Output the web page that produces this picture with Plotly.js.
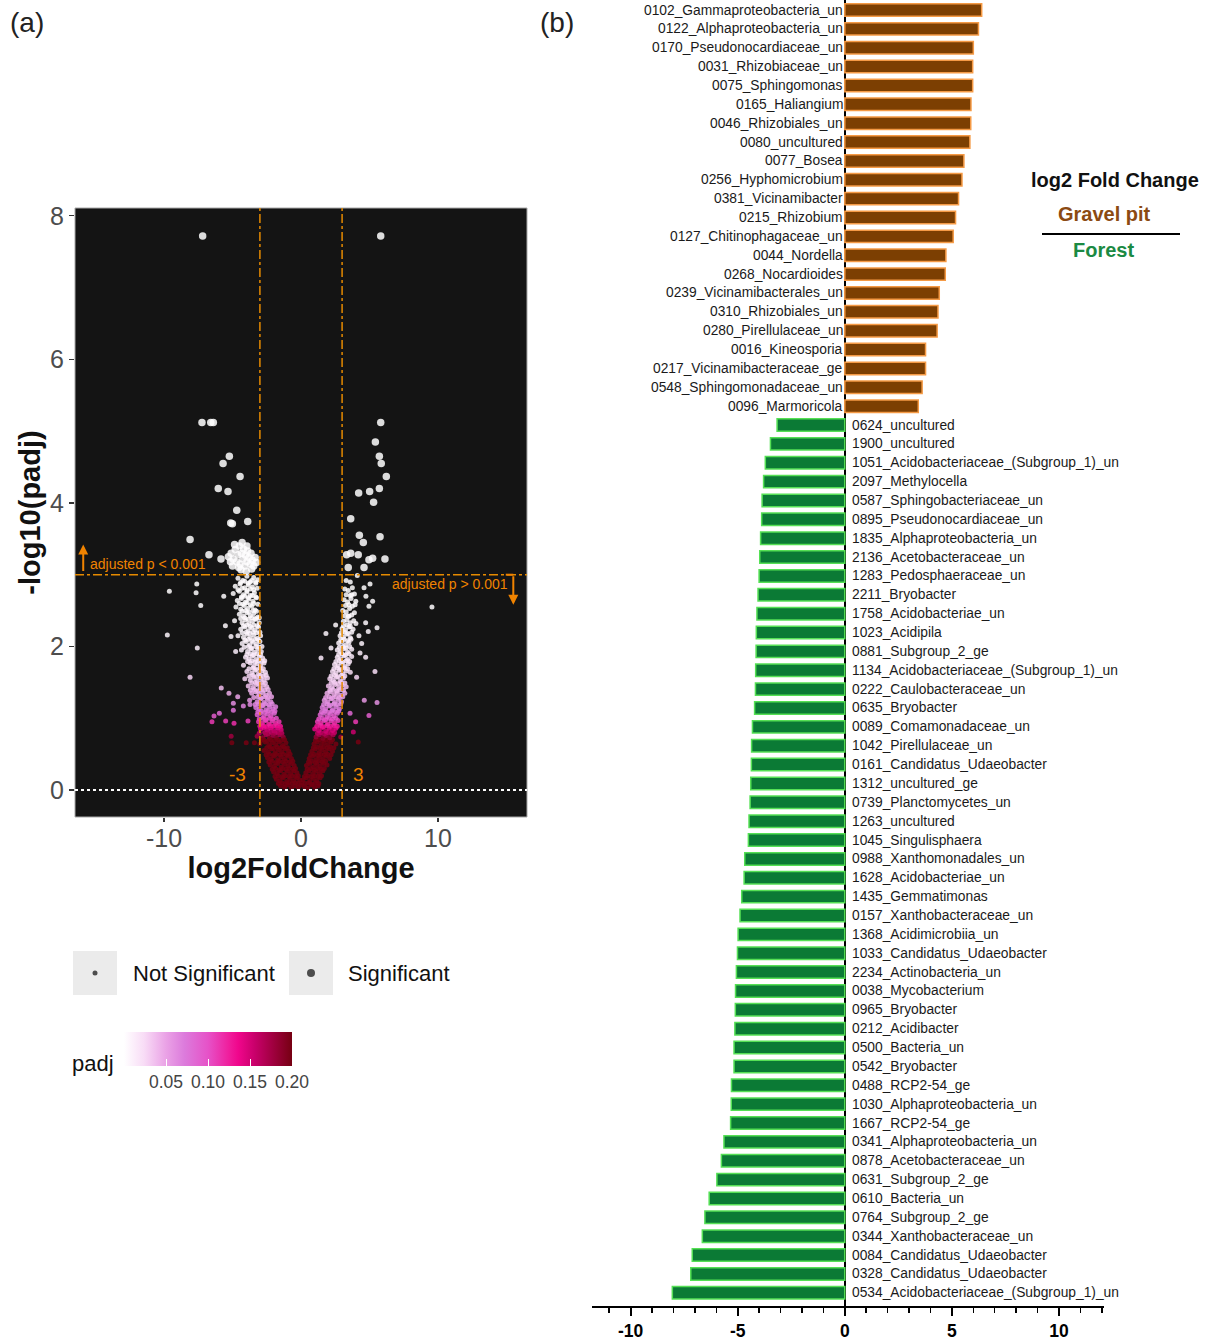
<!DOCTYPE html>
<html><head><meta charset="utf-8">
<script src="https://cdn.plot.ly/plotly-3.0.1.min.js"></script>
<style>html,body{margin:0;padding:0;background:#fff}#chart{width:1214px;height:1340px}</style>
</head><body><div id="chart"></div>
<script>
// ---------------- Panel (b): log2 fold change bars ----------------
const gravelLabels = ["0102_Gammaproteobacteria_un","0122_Alphaproteobacteria_un","0170_Pseudonocardiaceae_un","0031_Rhizobiaceae_un","0075_Sphingomonas","0165_Haliangium","0046_Rhizobiales_un","0080_uncultured","0077_Bosea","0256_Hyphomicrobium","0381_Vicinamibacter","0215_Rhizobium","0127_Chitinophagaceae_un","0044_Nordella","0268_Nocardioides","0239_Vicinamibacterales_un","0310_Rhizobiales_un","0280_Pirellulaceae_un","0016_Kineosporia","0217_Vicinamibacteraceae_ge","0548_Sphingomonadaceae_un","0096_Marmoricola"];
const gravelValues = [6.39,6.24,6.00,5.97,5.97,5.89,5.88,5.84,5.56,5.47,5.31,5.17,5.06,4.72,4.69,4.41,4.35,4.31,3.77,3.77,3.61,3.43];
const forestLabels = ["0624_uncultured","1900_uncultured","1051_Acidobacteriaceae_(Subgroup_1)_un","2097_Methylocella","0587_Sphingobacteriaceae_un","0895_Pseudonocardiaceae_un","1835_Alphaproteobacteria_un","2136_Acetobacteraceae_un","1283_Pedosphaeraceae_un","2211_Bryobacter","1758_Acidobacteriae_un","1023_Acidipila","0881_Subgroup_2_ge","1134_Acidobacteriaceae_(Subgroup_1)_un","0222_Caulobacteraceae_un","0635_Bryobacter","0089_Comamonadaceae_un","1042_Pirellulaceae_un","0161_Candidatus_Udaeobacter","1312_uncultured_ge","0739_Planctomycetes_un","1263_uncultured","1045_Singulisphaera","0988_Xanthomonadales_un","1628_Acidobacteriae_un","1435_Gemmatimonas","0157_Xanthobacteraceae_un","1368_Acidimicrobiia_un","1033_Candidatus_Udaeobacter","2234_Actinobacteria_un","0038_Mycobacterium","0965_Bryobacter","0212_Acidibacter","0500_Bacteria_un","0542_Bryobacter","0488_RCP2-54_ge","1030_Alphaproteobacteria_un","1667_RCP2-54_ge","0341_Alphaproteobacteria_un","0878_Acetobacteraceae_un","0631_Subgroup_2_ge","0610_Bacteria_un","0764_Subgroup_2_ge","0344_Xanthobacteraceae_un","0084_Candidatus_Udaeobacter","0328_Candidatus_Udaeobacter","0534_Acidobacteriaceae_(Subgroup_1)_un"];
const forestValues = [-3.16,-3.47,-3.71,-3.79,-3.86,-3.88,-3.93,-3.97,-4.00,-4.05,-4.10,-4.13,-4.14,-4.16,-4.17,
  -4.21,-4.31,-4.35,-4.36,-4.39,-4.42,-4.47,-4.50,-4.67,-4.70,-4.81,-4.89,-4.98,-5.01,-5.06,-5.10,
  -5.11,-5.13,-5.17,-5.17,-5.29,-5.30,-5.33,-5.64,-5.76,-5.97,-6.33,-6.53,-6.65,-7.12,-7.19,-8.05];
const barTickVals = [-10,-5,0,5,10];
const barTickText = ["-10","-5","0","5","10"];

// ---------------- Panel (a): volcano plot ----------------
const log2FC = [
  -7.18,-7.23,-6.59,-6.40,-5.23,-5.69,-4.45,-6.04,-5.33,-4.69,
  -5.13,-5.01,-3.89,-8.10,-6.72,-5.84,-4.38,
  -5.30,-5.10,-4.95,-4.80,-4.70,-4.60,-4.50,-4.45,-4.35,-4.25,-4.20,-4.10,-4.05,-3.95,-3.90,-3.80,-3.70,-3.65,-3.55,-3.45,-3.35,-3.25,-5.00,-4.85,-4.55,-4.30,-3.95,-5.15,-3.60,-4.00,
  -7.61,-9.61,-7.66,-7.32,-9.76,-7.57,-8.10,-5.64,-5.52,-5.11,-4.77,-5.82,
  -5.26,-4.62,-4.21,-4.94,-3.72,-6.35,-5.96,-6.50,-5.50,-4.89,-3.87,-4.94,
  -5.10,-5.05,-4.00,-3.40,
  -4.60,-4.25,-3.95,-3.70,-3.45,-3.15,
  -4.40,-4.10,-3.85,-3.60,-3.30,
  -4.80,-4.45,-4.10,-3.85,-3.55,-3.30,
  -4.60,-4.30,-3.95,-3.70,-3.45,-3.20,
  -4.95,-4.50,-4.20,-3.95,-3.70,-3.40,
  -4.35,-4.10,-3.85,-3.55,-3.30,
  -4.65,-4.35,-4.05,-3.80,-3.50,-3.25,
  -4.50,-4.25,-3.95,-3.70,-3.45,-3.15,
  -4.75,-4.40,-4.15,-3.90,-3.60,-3.35,
  -4.30,-4.05,-3.80,-3.50,-3.25,
  -4.50,-4.20,-3.95,-3.70,-3.45,-3.15,
  -4.40,-4.10,-3.85,-3.60,-3.35,-3.05,
  -4.85,-4.30,-4.05,-3.80,-3.55,-3.30,-3.05,
  -4.20,-3.95,-3.70,-3.45,-3.20,
  -4.40,-4.10,-3.85,-3.60,-3.35,-3.10,
  -4.30,-4.00,-3.75,-3.50,-3.25,-3.00,
  -4.60,-4.20,-3.95,-3.70,-3.45,-3.20,-2.95,
  -4.10,-3.85,-3.60,-3.35,-3.10,
  -4.30,-4.00,-3.75,-3.50,-3.25,-3.00,
  -4.15,-3.85,-3.60,-3.30,-3.05,-2.85,
  -4.35,-3.90,-3.65,-3.40,-3.15,-2.90,
  -3.95,-3.70,-3.45,-3.20,-2.95,
  -4.05,-3.80,-3.55,-3.30,-3.05,-2.80,
  -3.90,-3.60,-3.35,-3.10,-2.85,-2.65,
  -4.20,-3.70,-3.45,-3.20,-2.95,-2.70,
  -3.80,-3.50,-3.25,-3.00,-2.75,
  -3.95,-3.60,-3.35,-3.10,-2.85,-2.60,
  -3.80,-3.50,-3.25,-3.00,-2.75,-2.55,
  -4.10,-3.70,-3.45,-3.20,-2.95,-2.70,-2.45,
  -3.60,-3.35,-3.10,-2.85,-2.60,
  -3.85,-3.50,-3.25,-3.00,-2.75,-2.50,
  -3.70,-3.40,-3.15,-2.90,-2.65,-2.40,
  -3.60,-3.30,-3.05,-2.80,-2.55,-2.30,
  -3.45,-3.15,-2.90,-2.65,-2.40,-2.15,
  -3.75,-3.20,-2.95,-2.70,-2.45,-2.20,
  -3.35,-3.10,-2.85,-2.60,-2.35,-2.10,
  -3.30,-3.05,-2.80,-2.55,-2.30,-2.05,-1.85,
  -3.15,-2.90,-2.65,-2.40,-2.15,-1.90,
  -3.20,-2.95,-2.70,-2.45,-2.20,-1.95,
  -3.05,-2.80,-2.55,-2.30,-2.05,-1.80,
  -3.10,-2.85,-2.60,-2.35,-2.10,-1.85,-1.60,
  -3.00,-2.75,-2.50,-2.25,-2.00,-1.75,-1.50,
  -2.95,-2.70,-2.45,-2.20,-1.95,-1.70,-1.45,
  -3.05,-2.65,-2.40,-2.15,-1.90,-1.65,-1.40,
  -3.20,-2.80,-2.55,-2.30,-2.05,-1.80,-1.55,-1.30,
  -2.90,-2.70,-2.45,-2.20,-1.95,-1.70,-1.45,-1.20,
  -3.00,-2.60,-2.35,-2.10,-1.85,-1.60,-1.35,-1.10,
  -2.50,-2.25,-2.00,-1.75,-1.50,-1.25,-1.00,
  -2.70,-2.40,-2.15,-1.90,-1.65,-1.40,-1.15,-0.90,
  -2.55,-2.30,-2.05,-1.80,-1.55,-1.30,-1.05,-0.80,
  -2.45,-2.20,-1.95,-1.70,-1.45,-1.20,-0.95,-0.70,
  -2.35,-2.10,-1.85,-1.60,-1.35,-1.10,-0.85,-0.60,
  -2.25,-1.95,-1.70,-1.45,-1.20,-0.95,-0.70,-0.50,
  -2.10,-1.85,-1.60,-1.35,-1.10,-0.85,-0.60,-0.40,
  -2.00,-1.75,-1.50,-1.25,-1.00,-0.75,-0.50,-0.30,
  -1.90,-1.65,-1.40,-1.15,-0.90,-0.65,-0.40,-0.20,
  -1.80,-1.55,-1.30,-1.05,-0.80,-0.55,-0.30,-0.10,
  -1.65,-1.40,-1.15,-0.90,-0.65,-0.40,-0.20,0.05,
  -1.50,-1.20,-0.95,-0.70,-0.45,-0.20,0.00,
  // right arm
  0.25,0.50,0.75,1.00,1.25,
  0.30,0.55,0.80,1.05,1.30,
  0.15,0.40,0.65,0.90,1.15,1.40,
  0.25,0.50,0.75,1.00,1.25,1.50,
  0.35,0.60,0.85,1.10,1.35,1.60,
  0.45,0.70,0.95,1.20,1.45,1.70,
  0.40,0.65,0.90,1.15,1.40,1.65,1.90,
  0.55,0.80,1.05,1.30,1.55,1.80,
  0.60,0.85,1.10,1.35,1.60,1.85,2.10,
  0.70,0.95,1.20,1.45,1.70,1.95,2.20,
  0.80,1.05,1.30,1.55,1.80,2.05,2.30,
  0.90,1.15,1.40,1.65,1.90,2.15,2.40,
  0.95,1.20,1.45,1.70,1.95,2.20,2.55,
  1.05,1.30,1.55,1.80,2.05,2.30,
  1.10,1.35,1.60,1.85,2.10,2.35,2.90,
  1.20,1.45,1.70,1.95,2.20,2.45,
  1.00,1.30,1.55,1.80,2.05,2.30,2.55,
  1.15,1.40,1.65,1.90,2.15,2.40,2.65,
  1.20,1.45,1.70,1.95,2.20,2.45,2.70,
  1.30,1.55,1.80,2.05,2.30,2.55,
  1.40,1.65,1.90,2.15,2.40,2.65,
  1.50,1.75,2.00,2.25,2.50,2.75,
  1.55,1.80,2.05,2.30,2.55,2.80,
  1.65,1.90,2.15,2.40,2.65,2.90,
  1.70,1.95,2.20,2.45,2.70,2.95,
  1.80,2.05,2.30,2.55,2.80,3.05,
  1.90,2.15,2.40,2.65,2.90,3.20,
  2.10,2.35,2.60,2.85,3.10,
  2.00,2.25,2.50,2.75,3.00,3.30,
  2.20,2.45,2.70,2.95,3.20,
  2.10,2.35,2.60,2.85,3.10,
  2.20,2.45,2.70,2.95,3.20,
  2.30,2.55,2.80,3.05,3.30,3.60,
  2.40,2.65,2.90,3.15,3.40,
  2.45,2.70,2.95,3.20,3.45,
  2.55,2.80,3.05,3.30,3.55,
  2.65,2.90,3.15,3.40,3.70,
  2.75,3.00,3.25,3.50,
  2.65,2.90,3.15,3.40,3.70,
  2.80,3.05,3.30,3.55,
  2.75,3.00,3.25,3.50,
  2.90,3.15,3.40,3.65,
  2.85,3.10,3.35,3.60,
  2.95,3.20,3.45,3.70,
  3.00,3.25,3.50,3.80,
  3.10,3.35,3.60,
  3.10,3.35,3.60,3.85,
  3.20,3.45,3.70,
  3.05,3.30,3.55,3.90,
  3.25,3.50,3.75,
  3.15,3.40,3.65,4.00,
  3.30,3.60,3.90,
  3.20,3.45,3.75,
  3.30,3.60,
  // right scattered and significant
  5.82,5.82,5.43,5.72,5.86,6.23,4.21,5.01,5.72,5.30,3.63,4.26,4.55,5.77,3.33,3.63,4.18,4.96,5.23,6.13,3.45,4.60,
  4.11,4.60,5.04,4.74,5.23,4.96,9.56,4.01,4.72,4.91,5.55,1.82,2.53,1.46,2.19,4.31,4.72,4.06,5.40,4.62,5.55,4.96,3.58,3.99,3.82,4.18,4.43,4.23,3.70,3.95,3.50
];
const negLog10Padj = [
  7.72,5.12,5.12,5.12,4.65,4.55,4.37,4.20,4.16,3.90,
  3.72,3.71,3.74,3.49,3.28,3.22,3.07,
  3.25,3.30,3.22,3.35,3.18,3.28,3.40,3.15,3.30,3.22,3.36,3.12,3.27,3.18,3.33,3.24,3.15,3.30,3.20,3.12,3.24,3.17,3.12,3.42,3.10,3.45,3.40,3.18,3.08,3.05,
  2.87,2.77,2.75,2.57,2.16,1.98,1.57,2.70,2.29,2.14,1.93,1.42,
  1.35,1.30,1.17,1.11,1.19,1.03,1.07,0.95,0.96,0.93,0.96,1.21,
  0.75,0.66,0.66,0.66,
  2.95,2.92,2.98,2.90,2.96,2.93,
  2.89,2.91,2.88,2.92,2.90,
  2.84,2.87,2.82,2.86,2.83,2.88,
  2.79,2.81,2.78,2.80,2.79,2.81,
  2.74,2.77,2.72,2.76,2.71,2.75,
  2.69,2.70,2.68,2.71,2.69,
  2.64,2.67,2.62,2.66,2.63,2.68,
  2.60,2.59,2.61,2.58,2.60,2.59,
  2.55,2.52,2.57,2.53,2.56,2.51,
  2.49,2.50,2.48,2.50,2.49,
  2.45,2.42,2.47,2.43,2.46,2.41,
  2.39,2.40,2.38,2.40,2.39,2.40,
  2.36,2.33,2.37,2.32,2.35,2.38,2.33,
  2.29,2.30,2.28,2.30,2.29,
  2.24,2.27,2.22,2.26,2.23,2.27,
  2.19,2.20,2.18,2.20,2.19,2.20,
  2.15,2.13,2.17,2.12,2.16,2.11,2.15,
  2.09,2.10,2.08,2.10,2.09,
  2.04,2.07,2.02,2.06,2.03,2.07,
  1.99,2.00,1.98,2.00,1.99,2.00,
  1.95,1.93,1.97,1.92,1.96,1.93,
  1.89,1.90,1.88,1.90,1.89,
  1.85,1.83,1.87,1.82,1.86,1.84,
  1.79,1.80,1.78,1.80,1.79,1.80,
  1.74,1.77,1.72,1.76,1.73,1.77,
  1.69,1.70,1.68,1.70,1.69,
  1.65,1.63,1.67,1.62,1.66,1.64,
  1.59,1.60,1.58,1.60,1.59,1.60,
  1.55,1.53,1.57,1.52,1.56,1.53,1.56,
  1.49,1.50,1.48,1.50,1.49,
  1.45,1.43,1.47,1.42,1.46,1.44,
  1.39,1.40,1.38,1.40,1.39,1.40,
  1.35,1.37,1.33,1.36,1.32,1.35,
  1.29,1.30,1.28,1.30,1.29,1.30,
  1.25,1.23,1.27,1.22,1.26,1.23,
  1.19,1.20,1.18,1.20,1.19,1.20,
  1.15,1.13,1.17,1.12,1.16,1.13,1.16,
  1.09,1.10,1.08,1.10,1.09,1.10,
  1.05,1.07,1.02,1.06,1.03,1.07,
  0.99,1.00,0.98,1.00,0.99,1.00,
  0.95,0.93,0.97,0.92,0.96,0.93,0.95,
  0.89,0.90,0.88,0.90,0.89,0.90,0.89,
  0.85,0.87,0.83,0.86,0.82,0.86,0.84,
  0.79,0.80,0.78,0.80,0.79,0.80,0.79,
  0.75,0.73,0.77,0.72,0.76,0.73,0.77,0.74,
  0.69,0.70,0.68,0.70,0.69,0.70,0.69,0.70,
  0.64,0.67,0.62,0.66,0.63,0.67,0.62,0.66,
  0.59,0.60,0.58,0.60,0.59,0.60,0.59,
  0.55,0.53,0.57,0.52,0.56,0.53,0.57,0.54,
  0.49,0.50,0.48,0.50,0.49,0.50,0.49,0.50,
  0.45,0.43,0.47,0.42,0.46,0.43,0.47,0.44,
  0.39,0.40,0.38,0.40,0.39,0.40,0.39,0.40,
  0.35,0.33,0.37,0.32,0.36,0.33,0.37,0.34,
  0.29,0.30,0.28,0.30,0.29,0.30,0.29,0.30,
  0.25,0.23,0.27,0.22,0.26,0.23,0.27,0.24,
  0.19,0.20,0.18,0.20,0.19,0.20,0.19,0.20,
  0.15,0.13,0.17,0.12,0.16,0.13,0.17,0.14,
  0.09,0.10,0.08,0.10,0.09,0.10,0.09,0.10,
  0.06,0.04,0.07,0.03,0.06,0.04,0.07,
  // right arm
  0.05,0.03,0.07,0.04,0.06,
  0.09,0.10,0.08,0.10,0.09,
  0.14,0.17,0.12,0.16,0.13,0.17,
  0.19,0.20,0.18,0.20,0.19,0.20,
  0.24,0.27,0.22,0.26,0.23,0.27,
  0.29,0.30,0.28,0.30,0.29,0.30,
  0.34,0.37,0.32,0.36,0.33,0.37,0.35,
  0.39,0.40,0.38,0.40,0.39,0.40,
  0.44,0.47,0.42,0.46,0.43,0.47,0.44,
  0.49,0.50,0.48,0.50,0.49,0.50,0.49,
  0.54,0.57,0.52,0.56,0.53,0.57,0.54,
  0.59,0.60,0.58,0.60,0.59,0.60,0.59,
  0.64,0.67,0.62,0.66,0.63,0.67,0.64,
  0.69,0.70,0.68,0.70,0.69,0.70,
  0.74,0.77,0.72,0.76,0.73,0.77,0.74,
  0.79,0.80,0.78,0.80,0.79,0.80,
  0.85,0.83,0.87,0.82,0.86,0.83,0.86,
  0.89,0.90,0.88,0.90,0.89,0.90,0.89,
  0.95,0.93,0.97,0.92,0.96,0.93,0.97,
  0.99,1.00,0.98,1.00,0.99,1.00,
  1.05,1.07,1.02,1.06,1.03,1.07,
  1.09,1.10,1.08,1.10,1.09,1.10,
  1.15,1.13,1.17,1.12,1.16,1.13,
  1.19,1.20,1.18,1.20,1.19,1.20,
  1.25,1.23,1.27,1.22,1.26,1.23,
  1.29,1.30,1.28,1.30,1.29,1.30,
  1.35,1.37,1.33,1.36,1.32,1.35,
  1.39,1.40,1.38,1.40,1.39,
  1.45,1.43,1.47,1.42,1.46,1.44,
  1.49,1.50,1.48,1.50,1.49,
  1.55,1.53,1.57,1.52,1.56,
  1.59,1.60,1.58,1.60,1.59,
  1.65,1.63,1.67,1.62,1.66,1.64,
  1.69,1.70,1.68,1.70,1.69,
  1.75,1.73,1.77,1.72,1.76,
  1.79,1.80,1.78,1.80,1.79,
  1.85,1.83,1.87,1.82,1.86,
  1.89,1.90,1.88,1.90,
  1.95,1.93,1.97,1.92,1.96,
  1.99,2.00,1.98,2.00,
  2.05,2.07,2.02,2.06,
  2.09,2.10,2.08,2.10,
  2.15,2.13,2.17,2.12,
  2.19,2.20,2.18,2.20,
  2.25,2.23,2.27,2.24,
  2.29,2.30,2.28,
  2.35,2.37,2.33,2.36,
  2.43,2.42,2.44,
  2.50,2.48,2.53,2.47,
  2.57,2.58,2.56,
  2.65,2.62,2.67,2.63,
  2.72,2.71,2.73,
  2.80,2.78,2.82,
  2.92,2.90,
  // right scattered and significant
  7.72,5.12,4.85,4.65,4.55,4.37,4.14,4.16,4.20,4.01,3.78,3.55,3.45,3.53,3.28,3.30,3.28,3.21,3.23,3.22,3.10,3.10,
  2.99,2.82,2.87,2.70,2.63,2.56,2.55,2.32,2.33,2.21,2.26,2.18,2.30,1.84,1.98,1.91,1.85,1.57,1.65,1.25,1.22,1.04,1.07,0.95,0.81,0.67,2.04,2.15,2.72,2.58,2.42
];
const volcanoXTicks = [-10,0,10];
const volcanoXTickText = ["-10","0","10"];
const volcanoYTicks = [0,2,4,6,8];
const padjTicks = [0.05,0.10,0.15,0.20];
const padjTickText = ["0.05","0.10","0.15","0.20"];

// ---------------- helpers / styles ----------------
const W = 1214, H = 1340;
const px = v => v / W, py = v => 1 - v / H;
const FONT = "Liberation Sans, Arial, Helvetica, sans-serif";
const ORANGE_LINE = "#e58a00";
const ORANGE_TXT = "#f08300";

const padj = negLog10Padj.map(v => Math.pow(10, -v));
const isSig = negLog10Padj.map((v, i) => v > 3 && Math.abs(log2FC[i]) > 3);

const padjScale = [
  [0, "#ffffff"], [0.12, "#f8dcf6"], [0.25, "#eaa2e6"], [0.36, "#dc7bdc"],
  [0.5, "#e652c8"], [0.62, "#ef209e"], [0.68, "#f0068c"], [0.78, "#c8006a"], [1, "#760012"]
];

const traces = [
  {
    type: "scatter", mode: "markers", x: log2FC, y: negLog10Padj, xaxis: "x", yaxis: "y",
    hoverinfo: "skip", showlegend: false,
    marker: {
      color: padj, cmin: 0, cmax: 0.2, colorscale: padjScale,
      size: isSig.map(s => s ? 7.5 : 5), opacity: 0.85, line: { width: 0 },
      showscale: true,
      colorbar: {
        orientation: "h", x: px(208), xanchor: "center", y: py(1032), yanchor: "top",
        len: 168, lenmode: "pixels", thickness: 34, thicknessmode: "pixels",
        xpad: 0, ypad: 0, outlinewidth: 0,
        tickmode: "array", tickvals: padjTicks, ticktext: padjTickText,
        ticks: "inside", ticklen: 7, tickcolor: "#ffffff", tickwidth: 1,
        tickfont: { family: FONT, size: 17.5, color: "#444" }
      }
    }
  },
  {
    type: "bar", orientation: "h", y: gravelLabels, x: gravelValues, xaxis: "x2", yaxis: "y2",
    width: 0.66, hoverinfo: "skip", showlegend: false,
    marker: { color: "#7c3f02", line: { color: "#f59a45", width: 1.5 } }
  },
  {
    type: "bar", orientation: "h", y: forestLabels, x: forestValues, xaxis: "x2", yaxis: "y2",
    width: 0.66, hoverinfo: "skip", showlegend: false,
    marker: { color: "#0b7a35", line: { color: "#55e055", width: 1.5 } }
  }
];

const annotations = [];
gravelLabels.forEach(l => annotations.push({
  x: 0, y: l, xref: "x2", yref: "y2", text: l, showarrow: false,
  xanchor: "right", yanchor: "middle", xshift: 0,
  font: { family: FONT, size: 13.8, color: "#1a1a1a" }
}));
forestLabels.forEach(l => annotations.push({
  x: 0, y: l, xref: "x2", yref: "y2", text: l, showarrow: false,
  xanchor: "left", yanchor: "middle", xshift: 5,
  font: { family: FONT, size: 13.8, color: "#1a1a1a" }
}));
annotations.push({ x: px(8), y: py(22), xref: "paper", yref: "paper", text: "(a)", showarrow: false,
  xanchor: "left", yanchor: "middle", font: { family: FONT, size: 28, color: "#222" } });
annotations.push({ x: px(538), y: py(22), xref: "paper", yref: "paper", text: "(b)", showarrow: false,
  xanchor: "left", yanchor: "middle", font: { family: FONT, size: 28, color: "#222" } });
annotations.push({ x: px(1115), y: py(180), xref: "paper", yref: "paper", text: "log2 Fold Change", showarrow: false,
  xanchor: "center", yanchor: "middle", font: { family: FONT, size: 20, color: "#111", weight: "bold" } });
annotations.push({ x: px(1104), y: py(214), xref: "paper", yref: "paper", text: "Gravel pit", showarrow: false,
  xanchor: "center", yanchor: "middle", font: { family: FONT, size: 20, color: "#8b4a12", weight: "bold" } });
annotations.push({ x: px(1103), y: py(250), xref: "paper", yref: "paper", text: "Forest", showarrow: false,
  xanchor: "center", yanchor: "middle", font: { family: FONT, size: 20, color: "#1b8a43", weight: "bold" } });
annotations.push({ x: -15.55, y: 3.15, xref: "x", yref: "y", text: "adjusted p < 0.001", showarrow: false,
  xanchor: "left", yanchor: "middle", font: { family: FONT, size: 14, color: ORANGE_TXT } });
annotations.push({ x: 15.26, y: 2.87, xref: "x", yref: "y", text: "adjusted p > 0.001", showarrow: false,
  xanchor: "right", yanchor: "middle", font: { family: FONT, size: 14, color: ORANGE_TXT } });
annotations.push({ x: -4.67, y: 0.21, xref: "x", yref: "y", text: "-3", showarrow: false,
  xanchor: "center", yanchor: "middle", font: { family: FONT, size: 19, color: ORANGE_TXT } });
annotations.push({ x: 4.23, y: 0.21, xref: "x", yref: "y", text: "3", showarrow: false,
  xanchor: "center", yanchor: "middle", font: { family: FONT, size: 19, color: ORANGE_TXT } });
annotations.push({ x: -15.9, y: 3.42, ax: -15.9, ay: 3.03, xref: "x", yref: "y", axref: "x", ayref: "y",
  text: "", showarrow: true, arrowhead: 2, arrowsize: 1, arrowwidth: 2, arrowcolor: ORANGE_TXT, standoff: 0 });
annotations.push({ x: 15.5, y: 2.58, ax: 15.5, ay: 3.0, xref: "x", yref: "y", axref: "x", ayref: "y",
  text: "", showarrow: true, arrowhead: 2, arrowsize: 1, arrowwidth: 2, arrowcolor: ORANGE_TXT, standoff: 0 });
annotations.push({ x: px(131), y: py(973), xref: "paper", yref: "paper", text: "Not Significant", showarrow: false,
  xanchor: "left", yanchor: "middle", font: { family: FONT, size: 22, color: "#111" } });
annotations.push({ x: px(346), y: py(973), xref: "paper", yref: "paper", text: "Significant", showarrow: false,
  xanchor: "left", yanchor: "middle", font: { family: FONT, size: 22, color: "#111" } });
annotations.push({ x: px(70), y: py(1063), xref: "paper", yref: "paper", text: "padj", showarrow: false,
  xanchor: "left", yanchor: "middle", font: { family: FONT, size: 22, color: "#111" } });

const shapes = [
  { type: "rect", xref: "paper", yref: "paper", x0: px(75), x1: px(527), y0: py(817), y1: py(208),
    fillcolor: "#141414", line: { color: "#a8a8a8", width: 1 }, layer: "below" },
  { type: "line", xref: "x", yref: "y domain", x0: -3, x1: -3, y0: 0, y1: 1,
    line: { color: ORANGE_LINE, width: 1.5, dash: "dashdot" } },
  { type: "line", xref: "x", yref: "y domain", x0: 3, x1: 3, y0: 0, y1: 1,
    line: { color: ORANGE_LINE, width: 1.5, dash: "dashdot" } },
  { type: "line", xref: "x domain", yref: "y", x0: 0, x1: 1, y0: 3, y1: 3,
    line: { color: ORANGE_LINE, width: 1.5, dash: "dashdot" } },
  { type: "line", xref: "x domain", yref: "y", x0: 0, x1: 1, y0: 0, y1: 0,
    line: { color: "#ffffff", width: 1.8, dash: "dot" } },
  { type: "line", xref: "x", yref: "y", x0: 14.95, x1: 15.5, y0: 3.0, y1: 3.0,
    line: { color: ORANGE_TXT, width: 2 } },
  { type: "rect", xref: "paper", yref: "paper", x0: px(73), x1: px(117), y0: py(995), y1: py(951),
    fillcolor: "#ebebeb", line: { width: 0 } },
  { type: "rect", xref: "paper", yref: "paper", x0: px(289), x1: px(333), y0: py(995), y1: py(951),
    fillcolor: "#ebebeb", line: { width: 0 } },
  { type: "circle", xref: "paper", yref: "paper", x0: px(92.5), x1: px(97.5), y0: py(975.5), y1: py(970.5),
    fillcolor: "#4d4d4d", line: { width: 0 } },
  { type: "circle", xref: "paper", yref: "paper", x0: px(307), x1: px(315), y0: py(977), y1: py(969),
    fillcolor: "#4d4d4d", line: { width: 0 } },
  { type: "line", xref: "paper", yref: "paper", x0: px(1042), x1: px(1180), y0: py(234), y1: py(234),
    line: { color: "#000", width: 2.2 } }
];

const layout = {
  width: W, height: H, margin: { l: 0, r: 0, t: 0, b: 0 },
  paper_bgcolor: "#ffffff", plot_bgcolor: "rgba(0,0,0,0)",
  font: { family: FONT }, barmode: "overlay", showlegend: false,
  xaxis: {
    domain: [px(75), px(527)], anchor: "y", range: [-16.5, 16.5],
    tickmode: "array", tickvals: volcanoXTicks, ticktext: volcanoXTickText,
    ticks: "outside", ticklen: 4, tickwidth: 1.2, tickcolor: "#333",
    ticklabelstandoff: -5,
    tickfont: { family: FONT, size: 25, color: "#4d4d4d" },
    showgrid: false, zeroline: false, showline: false, fixedrange: true,
    title: { text: "log2FoldChange", font: { family: FONT, size: 29, color: "#111", weight: "bold" }, standoff: 4 }
  },
  yaxis: {
    domain: [py(817), py(208)], anchor: "x", range: [-0.376, 8.11],
    tickmode: "array", tickvals: volcanoYTicks,
    ticks: "outside", ticklen: 5, tickwidth: 1.2, tickcolor: "#333",
    tickfont: { family: FONT, size: 25, color: "#4d4d4d" },
    showgrid: false, zeroline: false, showline: false, fixedrange: true,
    title: { text: "-log10(padj)", font: { family: FONT, size: 29, color: "#111", weight: "bold" }, standoff: 0 }
  },
  xaxis2: {
    domain: [px(592), px(1104)], anchor: "y2", range: [-11.8, 12.1],
    tickmode: "array", tickvals: barTickVals, ticktext: barTickText,
    ticks: "outside", ticklen: 8, tickwidth: 2, tickcolor: "#000",
    minor: { tickmode: "linear", tick0: 0, dtick: 1, ticks: "outside", ticklen: 5, tickwidth: 1.5, tickcolor: "#000", showgrid: false },
    tickfont: { family: FONT, size: 17.5, color: "#000", weight: "bold" },
    showline: true, linecolor: "#000", linewidth: 2,
    showgrid: false, zeroline: true, zerolinecolor: "#000", zerolinewidth: 2, fixedrange: true
  },
  yaxis2: {
    domain: [py(1306), 1], anchor: "x2", type: "category",
    categoryorder: "array", categoryarray: gravelLabels.concat(forestLabels),
    range: [68.7, -0.53], showticklabels: false, ticks: "", showgrid: false,
    zeroline: false, showline: false, fixedrange: true
  },
  shapes: shapes, annotations: annotations
};

Plotly.newPlot("chart", traces, layout, { displayModeBar: false, staticPlot: true });
</script>
</body></html>
